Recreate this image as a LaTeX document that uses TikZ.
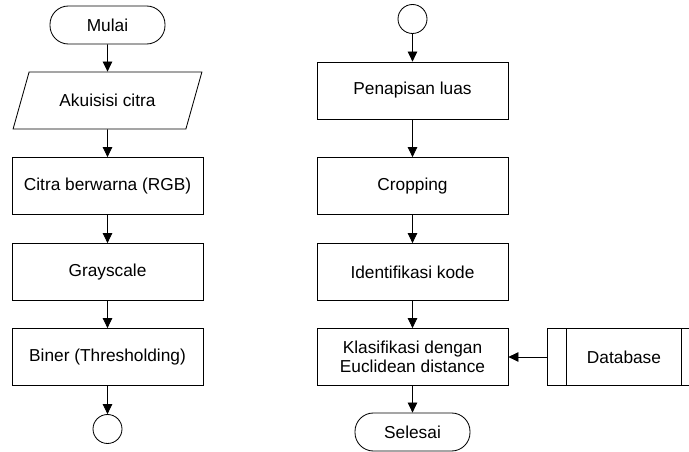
\documentclass[tikz,border=0pt]{standalone}
\usepackage{fontspec}
\setmainfont{Liberation Sans}
\usepackage{tikz}
\usetikzlibrary{arrows.meta}
\usetikzlibrary{shapes.geometric}
\tikzset{>={Triangle[length=2.5mm,width=2.4mm]}}

\begin{document}
\begin{tikzpicture}[
    font=\fontsize{12.3}{13.8}\selectfont,
    line width=0.6pt,
    proc/.style={draw, minimum width=4.775cm, minimum height=1.425cm, align=center},
    term/.style={draw, rounded corners=0.46cm, minimum width=2.875cm, minimum height=0.95cm},
    conn/.style={draw, circle, minimum size=0.725cm, inner sep=0pt},
    io/.style={draw, trapezium, trapezium left angle=64, trapezium right angle=116,
      trapezium stretches=true, minimum width=4.75cm, minimum height=1.425cm}
  ]
    \useasboundingbox (0,0) rectangle (17.225,-11.3);
    % left column
    \node[term] (mulai) at (2.6875,-0.625) {Mulai};
    \node[io] (akuisisi) at (2.6875,-2.5125) {Akuisisi citra};
    \node[proc] (rgb) at (2.6875,-4.65) {Citra berwarna (RGB)};
    \node[proc] (gray) at (2.6875,-6.8) {Grayscale};
    \node[proc] (biner) at (2.6875,-8.925) {Biner (Thresholding)};
    \node[conn] (ka) at (2.6875,-10.725) {};
    \begin{scope}[->]
      \draw (mulai) -- (akuisisi);
      \draw (akuisisi) -- (rgb);
      \draw (rgb) -- (gray);
      \draw (gray) -- (biner);
      \draw (biner) -- (ka);
    \end{scope}
    % right column
    \node[conn] (kb) at (10.3125,-0.475) {};
    \node[proc] (penapisan) at (10.3125,-2.2625) {Penapisan luas};
    \node[proc] (crop) at (10.3125,-4.65) {Cropping};
    \node[proc] (kode) at (10.3125,-6.8) {Identifikasi kode};
    \node[proc] (klas) at (10.3125,-8.925) {Klasifikasi dengan\\Euclidean distance};
    \node[term] (selesai) at (10.3125,-10.8) {Selesai};
    \node[proc, minimum width=3.85cm] (db) at (15.6,-8.925) {Database};
    \draw ([xshift=0.5cm]db.north west) -- ([xshift=0.5cm]db.south west);
    \draw ([xshift=-0.5cm]db.north east) -- ([xshift=-0.5cm]db.south east);
    \begin{scope}[->]
      \draw (kb) -- (penapisan);
      \draw (penapisan) -- (crop);
      \draw (crop) -- (kode);
      \draw (kode) -- (klas);
      \draw (klas) -- (selesai);
      \draw (db) -- (klas);
    \end{scope}
  \end{tikzpicture}
\end{document}
